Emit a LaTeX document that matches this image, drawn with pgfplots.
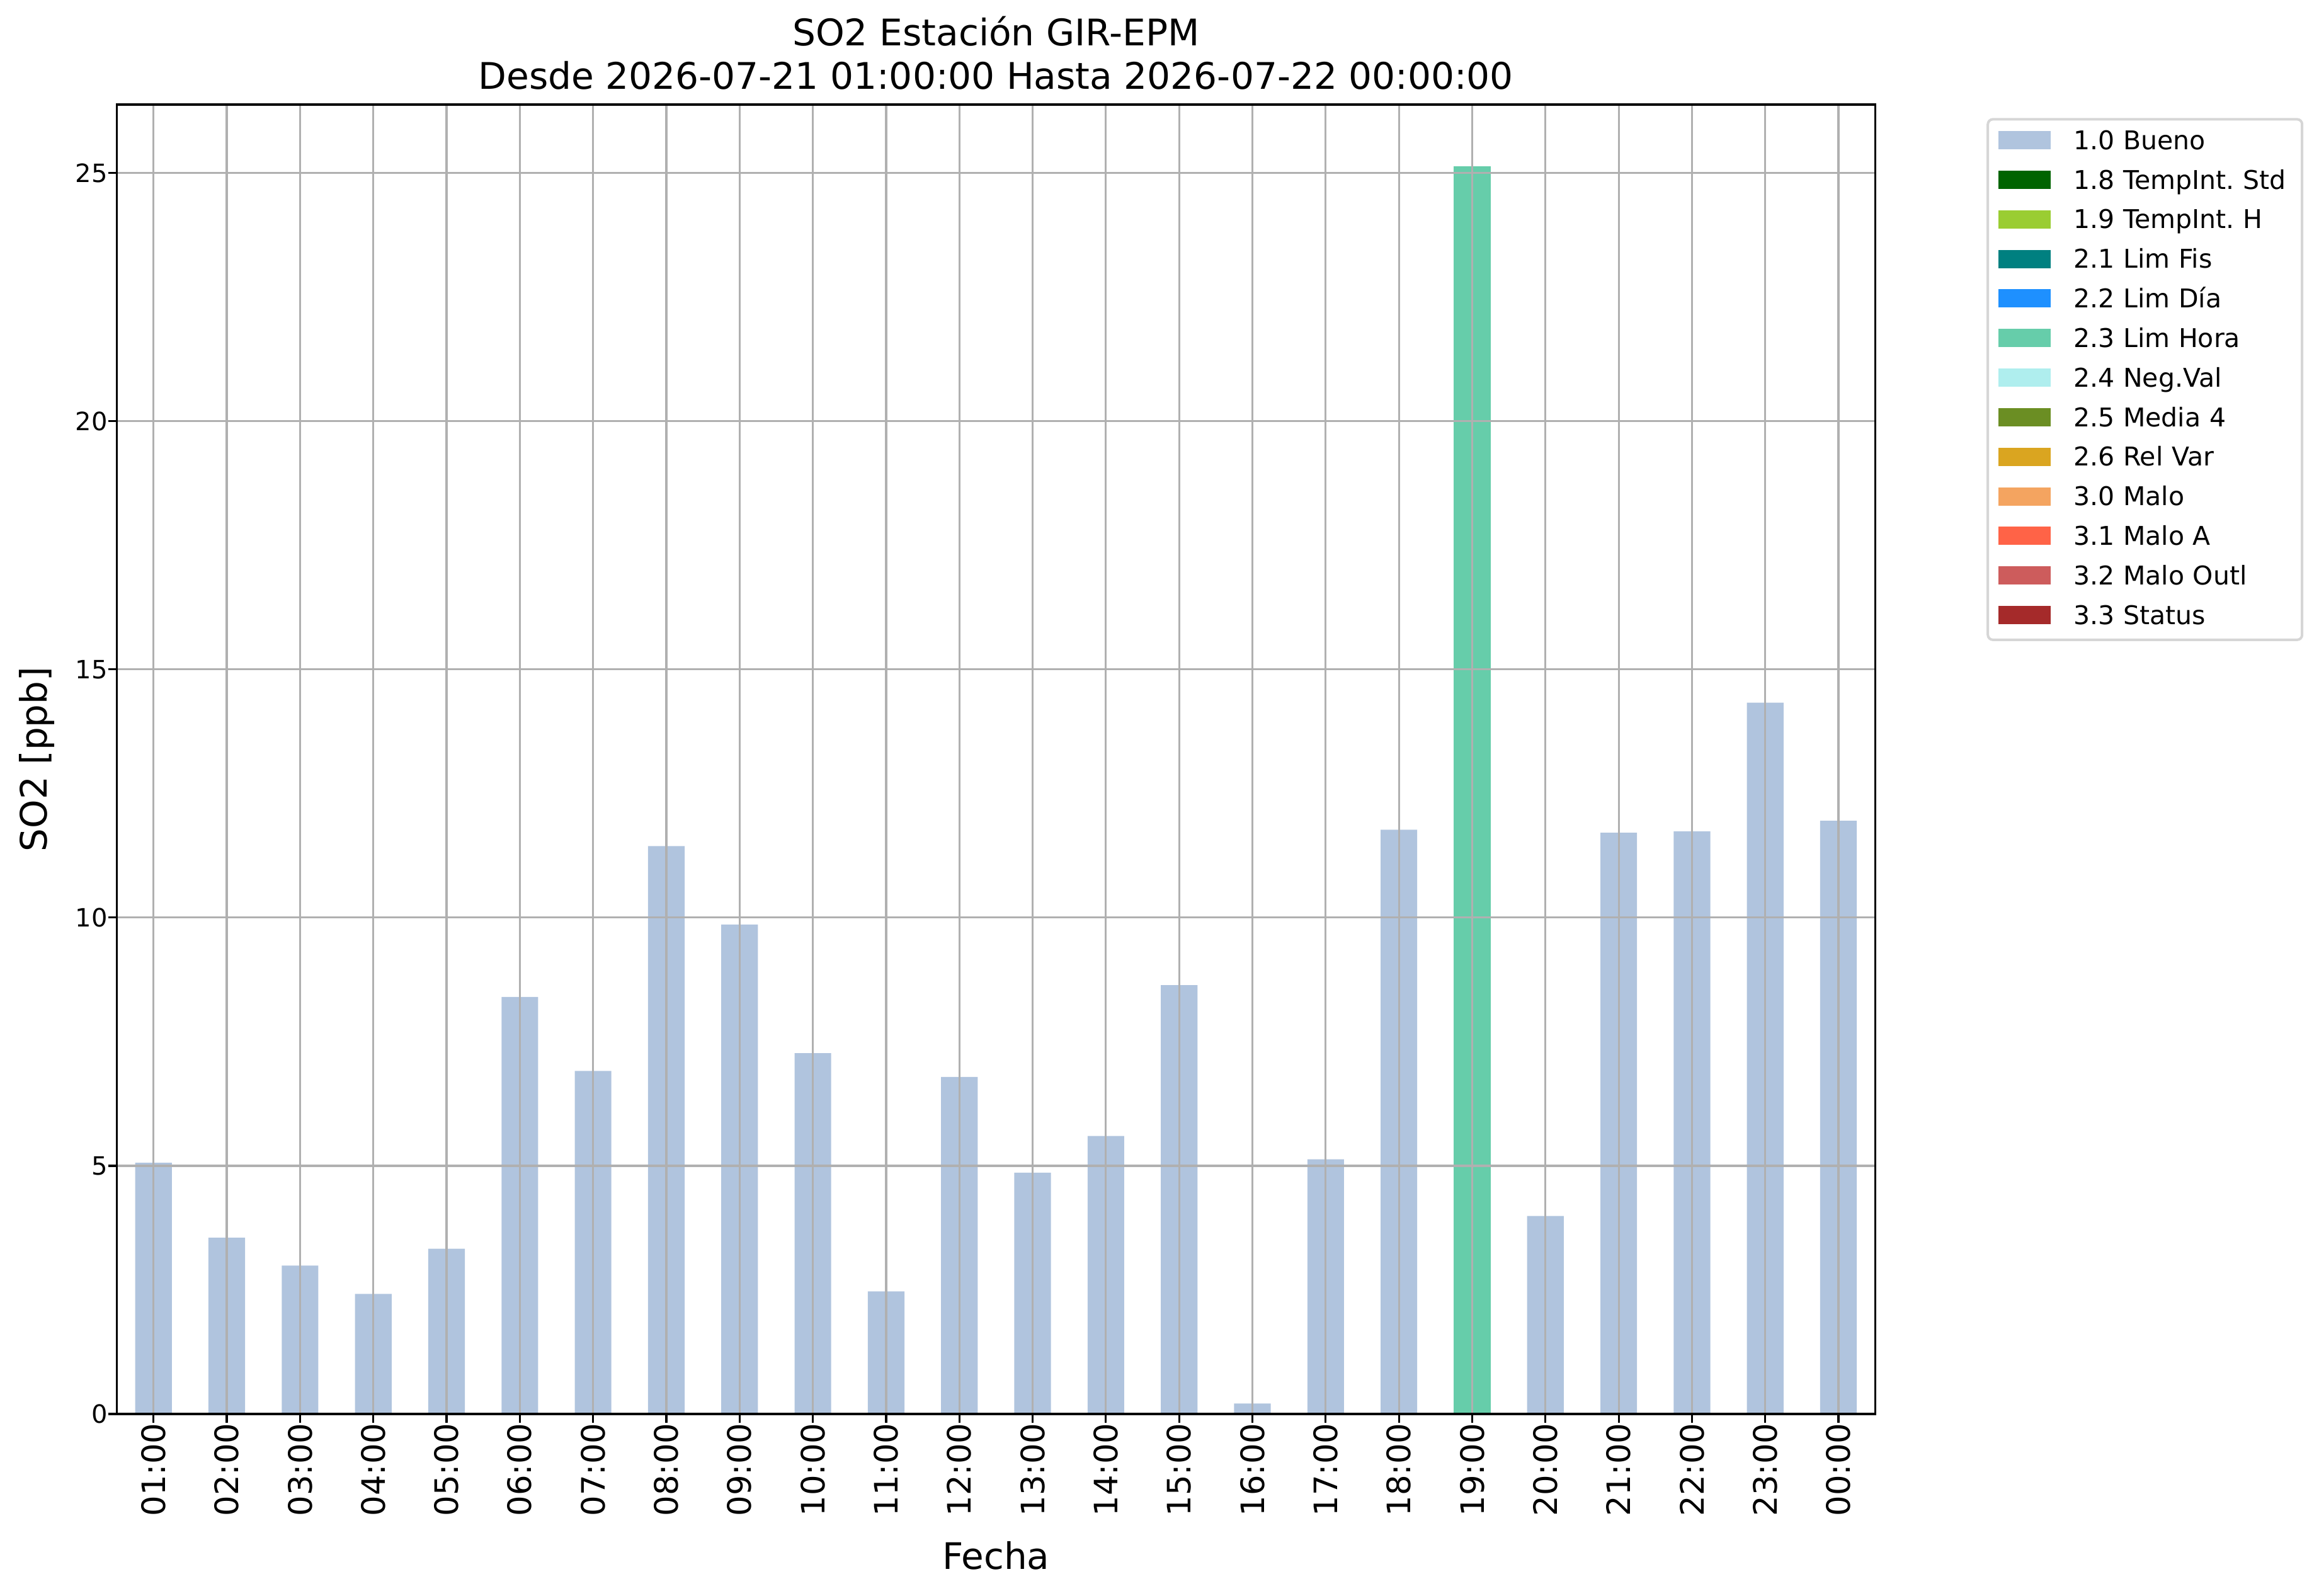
\documentclass[border=0pt]{standalone}
\usepackage{pgfplots}
\pgfplotsset{compat=1.18}
\usepackage{fontspec}
\setmainfont{DejaVu Sans}
\frenchspacing
\definecolor{bueno}{HTML}{B0C4DE}
\definecolor{c18}{HTML}{006400}
\definecolor{c19}{HTML}{9ACD32}
\definecolor{c21}{HTML}{008080}
\definecolor{c22}{HTML}{1E90FF}
\definecolor{c23}{HTML}{66CDAA}
\definecolor{c24}{HTML}{AFEEEE}
\definecolor{c25}{HTML}{6B8E23}
\definecolor{c26}{HTML}{DAA520}
\definecolor{c30}{HTML}{F4A460}
\definecolor{c31}{HTML}{FF6347}
\definecolor{c32}{HTML}{CD5C5C}
\definecolor{c33}{HTML}{A52A2A}
\definecolor{gridgray}{HTML}{B0B0B0}
\definecolor{legedge}{RGB}{214,214,214}
\begin{document}
\begin{tikzpicture}
\useasboundingbox (-46.4pt,-72.25pt) rectangle (874.1pt,561.25pt);
\begin{axis}[
  at={(0,0)}, anchor=south west,
  scale only axis, width=697.9pt, height=519.75pt,
  xmin=-0.5, xmax=23.5, ymin=0, ymax=26.38,
  axis on top,
  xmajorgrids, ymajorgrids,
  grid style={gridgray, line width=0.8pt},
  axis line style={black, line width=0.8pt},
  tick align=outside, tick pos=left,
  major tick length=3.5pt,
  tick style={black, line width=0.8pt},
  xtick={0,...,23},
  xticklabels={01:00,02:00,03:00,04:00,05:00,06:00,07:00,08:00,09:00,10:00,11:00,12:00,13:00,14:00,15:00,16:00,17:00,18:00,19:00,20:00,21:00,22:00,23:00,00:00},
  ytick={0,5,10,15,20,25},
  /pgf/number format/assume math mode=true,
  xticklabel style={rotate=90, anchor=east, inner sep=0pt, font=\fontsize{12.8}{15}\selectfont},
  yticklabel style={anchor=east, inner sep=0pt, font=\fontsize{10}{12}\selectfont},
  xlabel={Fecha},
  ylabel={SO2 [ppb]},
  xlabel style={at={(axis description cs:0.5,-0.1188)}, anchor=base, inner sep=0pt, font=\fontsize{14.5}{17}\selectfont},
  ylabel style={at={(axis description cs:-0.03976,0.5)}, anchor=base, inner sep=0pt, rotate=0, font=\fontsize{14.5}{17}\selectfont},
  legend image code/.code={\fill[#1, sharp corners] (0pt,-2.875pt) rectangle (20.7pt,4.375pt);},
  legend cell align=left,
  legend style={at={(rel axis cs:1.0634,0.9897)}, anchor=north west,
    draw=legedge, line width=1pt, rounded corners=2pt, fill=white,
    inner xsep=4.25pt, inner ysep=4.25pt,
    row sep=6.11pt, column sep=9.1pt,
    font=\fontsize{10.25}{12}\selectfont,
    nodes={inner sep=0pt, text height=7.7pt, text depth=1.9pt, anchor=west, text width=86.45pt, align=left}},
  extra description/.code={
    \node[anchor=base, inner sep=0pt, font=\fontsize{14.55}{17}\selectfont] at (axis description cs:0.5,1.01154) {Desde 2026-07-21 01:00:00 Hasta 2026-07-22 00:00:00};
    \node[anchor=base, inner sep=0pt, font=\fontsize{14.55}{17}\selectfont] at (axis description cs:0.5,1.04473) {SO2 Estación GIR-EPM};
  },
]
\addplot[ybar, bar width=0.5, bar shift=0pt, fill=bueno, draw=none, forget plot] coordinates {
(0,5.06) (1,3.55) (2,2.99) (3,2.42) (4,3.33) (5,8.40) (6,6.91) (7,11.44) (8,9.86) (9,7.27)
(10,2.47) (11,6.79) (12,4.86) (13,5.60) (14,8.64) (15,0.21) (16,5.13) (17,11.77)
(19,3.99) (20,11.71) (21,11.74) (22,14.33) (23,11.95)
};
\addplot[ybar, bar width=0.5, bar shift=0pt, fill=c23, draw=none, forget plot] coordinates {
(18,25.13)
};
\addlegendimage{fill=bueno, draw=none}
\addlegendentry{1.0 Bueno}
\addlegendimage{fill=c18, draw=none}
\addlegendentry{1.8 TempInt. Std}
\addlegendimage{fill=c19, draw=none}
\addlegendentry{1.9 TempInt. H}
\addlegendimage{fill=c21, draw=none}
\addlegendentry{2.1 Lim Fis}
\addlegendimage{fill=c22, draw=none}
\addlegendentry{2.2 Lim Día}
\addlegendimage{fill=c23, draw=none}
\addlegendentry{2.3 Lim Hora}
\addlegendimage{fill=c24, draw=none}
\addlegendentry{2.4 Neg.Val}
\addlegendimage{fill=c25, draw=none}
\addlegendentry{2.5 Media 4}
\addlegendimage{fill=c26, draw=none}
\addlegendentry{2.6 Rel Var}
\addlegendimage{fill=c30, draw=none}
\addlegendentry{3.0 Malo}
\addlegendimage{fill=c31, draw=none}
\addlegendentry{3.1 Malo A}
\addlegendimage{fill=c32, draw=none}
\addlegendentry{3.2 Malo Outl}
\addlegendimage{fill=c33, draw=none}
\addlegendentry{3.3 Status}
\end{axis}
\end{tikzpicture}
\end{document}
